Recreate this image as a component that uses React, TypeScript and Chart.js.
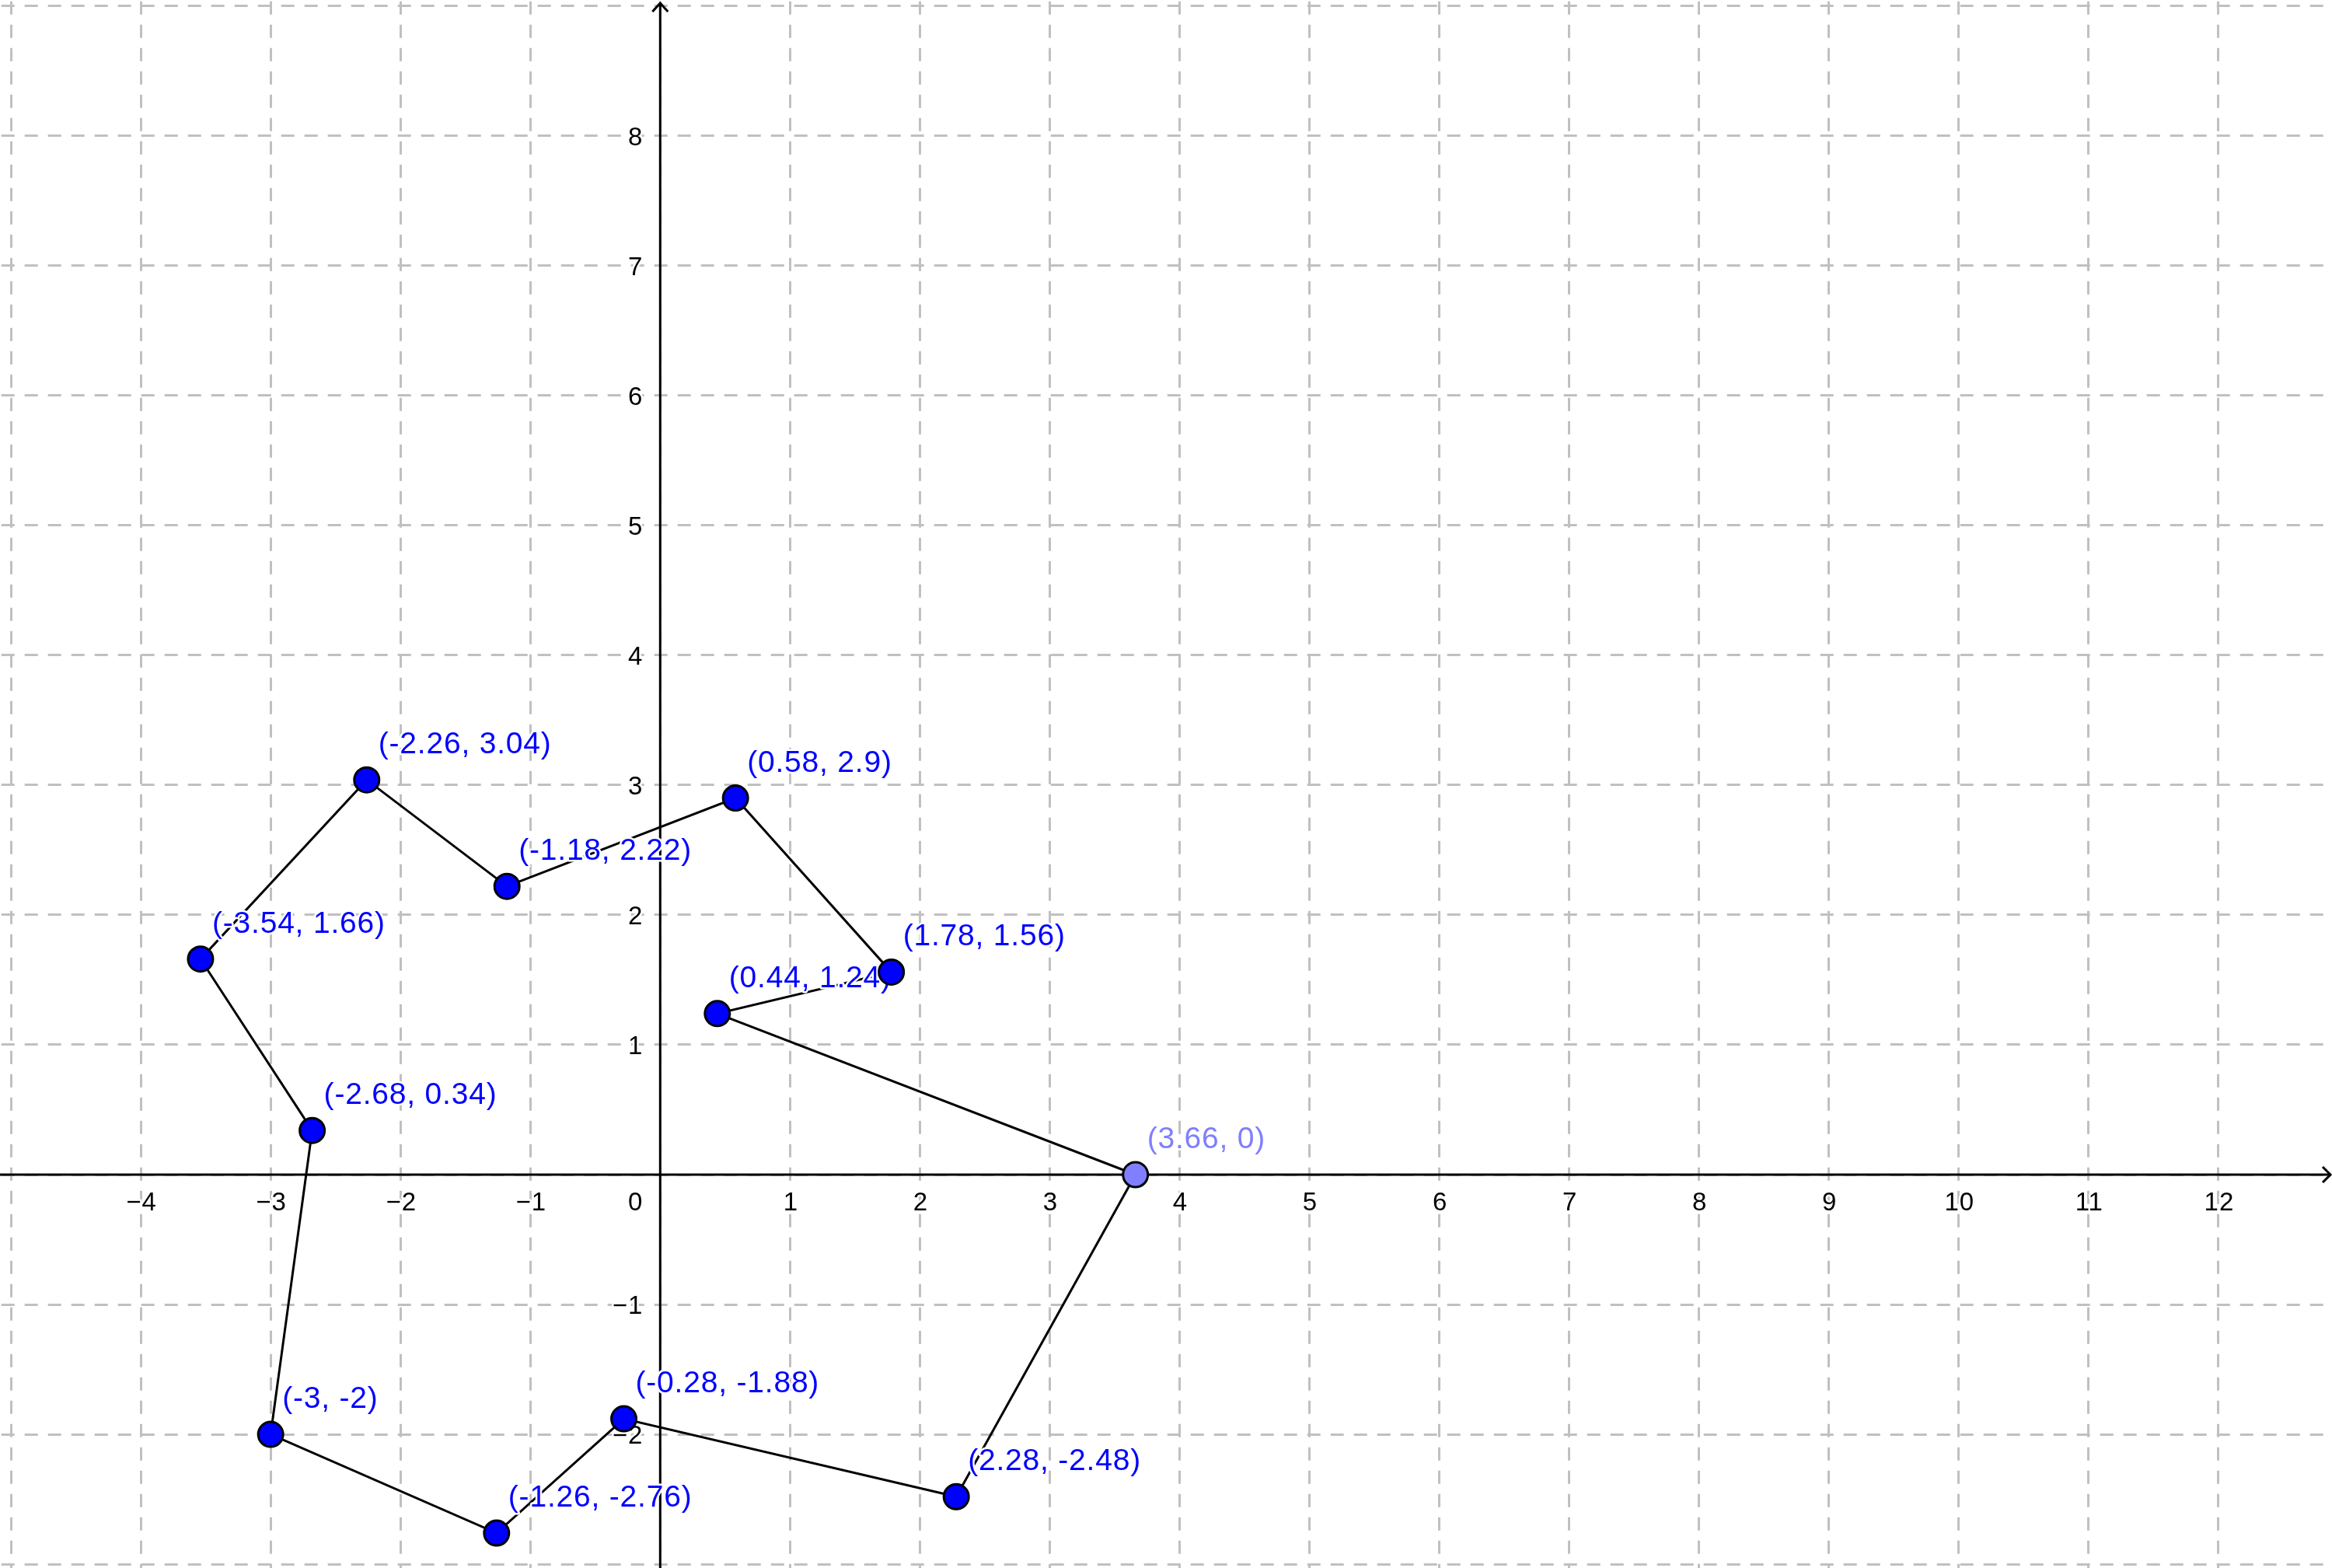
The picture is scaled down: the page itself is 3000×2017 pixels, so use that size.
import React, { useEffect, useRef } from "react";
import { Chart, registerables } from "chart.js";

Chart.register(...registerables);

// Polygon vertices, in drawing order (closed back to the first one)
const pointX = [3.66, 0.44, 1.78, 0.58, -1.18, -2.26, -3.54, -2.68, -3, -1.26, -0.28, 2.28];
const pointY = [0, 1.24, 1.56, 2.9, 2.22, 3.04, 1.66, 0.34, -2, -2.76, -1.88, -2.48];
const pointColors = [
  "#7f7fff", "#0000ff", "#0000ff", "#0000ff", "#0000ff", "#0000ff",
  "#0000ff", "#0000ff", "#0000ff", "#0000ff", "#0000ff", "#0000ff",
];

// Axis tick labels
const xTickValues = [-4, -3, -2, -1, 1, 2, 3, 4, 5, 6, 7, 8, 9, 10, 11, 12];
const xTickLabels = ["−4", "−3", "−2", "−1", "1", "2", "3", "4", "5", "6", "7", "8", "9", "10", "11", "12"];
const yTickValues = [-2, -1, 1, 2, 3, 4, 5, 6, 7, 8];
const yTickLabels = ["−2", "−1", "1", "2", "3", "4", "5", "6", "7", "8"];
const originLabel = "0";

// Grid line positions
const xGridValues = [-5, -4, -3, -2, -1, 0, 1, 2, 3, 4, 5, 6, 7, 8, 9, 10, 11, 12];
const yGridValues = [-3, -2, -1, 0, 1, 2, 3, 4, 5, 6, 7, 8, 9];

// Visible window
const X_MIN = -5.0841;
const X_MAX = 12.8746;
const Y_MIN = -3.029;
const Y_MAX = 9.0452;

const W = 3000;
const H = 2017;

const TICK_FONT = "33px 'Liberation Sans', Arial, sans-serif";
const LABEL_FONT = "39px 'Liberation Sans', Arial, sans-serif";

const geoPlugin = {
  id: "geoAxes",
  beforeDatasetsDraw(chart: any) {
    const { ctx } = chart;
    const xs = chart.scales.x;
    const ys = chart.scales.y;
    const ox = xs.getPixelForValue(0);
    const oy = ys.getPixelForValue(0);
    const cw = chart.width;
    const ch = chart.height;
    ctx.save();
    ctx.strokeStyle = "#000";
    ctx.lineWidth = 3;
    ctx.lineCap = "butt";
    ctx.beginPath();
    ctx.moveTo(0, oy);
    ctx.lineTo(cw - 2, oy);
    ctx.moveTo(ox, ch);
    ctx.lineTo(ox, 4);
    ctx.stroke();
    ctx.lineJoin = "miter";
    ctx.beginPath();
    ctx.moveTo(cw - 12, oy - 10);
    ctx.lineTo(cw - 2, oy);
    ctx.lineTo(cw - 12, oy + 10);
    ctx.stroke();
    ctx.beginPath();
    ctx.moveTo(ox - 10, 15);
    ctx.lineTo(ox, 4);
    ctx.lineTo(ox + 10, 15);
    ctx.stroke();

    ctx.font = TICK_FONT;
    try { ctx.letterSpacing = "1px"; } catch (e) {}
    ctx.lineJoin = "round";
    ctx.strokeStyle = "#fff";
    ctx.lineWidth = 5;
    ctx.fillStyle = "#000";
    ctx.textBaseline = "alphabetic";
    ctx.textAlign = "center";
    xTickValues.forEach((v, i) => {
      const px = xs.getPixelForValue(v) + 1;
      ctx.strokeText(xTickLabels[i], px, oy + 46);
      ctx.fillText(xTickLabels[i], px, oy + 46);
    });
    ctx.textAlign = "right";
    yTickValues.forEach((v, i) => {
      const py = ys.getPixelForValue(v);
      ctx.strokeText(yTickLabels[i], ox - 22, py + 12);
      ctx.fillText(yTickLabels[i], ox - 22, py + 12);
    });
    ctx.strokeText(originLabel, ox - 22, oy + 46);
    ctx.fillText(originLabel, ox - 22, oy + 46);
    ctx.restore();
  },
  afterDatasetDraw(chart: any, args: any) {
    if (args.index !== 1) return;
    const { ctx } = chart;
    const xs = chart.scales.x;
    const ys = chart.scales.y;
    ctx.save();
    ctx.font = LABEL_FONT;
    try { ctx.letterSpacing = "0.8px"; } catch (e) {}
    ctx.textAlign = "left";
    ctx.textBaseline = "alphabetic";
    ctx.lineJoin = "round";
    ctx.lineWidth = 5;
    ctx.strokeStyle = "#fff";
    pointX.forEach((vx, i) => {
      const vy = pointY[i];
      const text = "(" + String(vx) + ", " + String(vy) + ")";
      const px = xs.getPixelForValue(vx) + 15;
      const py = ys.getPixelForValue(vy) - 34;
      ctx.strokeText(text, px, py);
      ctx.fillStyle = pointColors[i];
      ctx.fillText(text, px, py);
    });
    ctx.restore();
  },
};

export default function App() {
  const canvasRef = useRef<HTMLCanvasElement | null>(null);

  useEffect(() => {
    const canvas = canvasRef.current;
    if (!canvas) return;
    const pts = pointX.map((x, i) => ({ x, y: pointY[i] }));
    const loop = pts.concat([pts[0]]);

    const chart = new Chart(canvas, {
      type: "scatter",
      data: {
        datasets: [
          {
            label: "points",
            data: pts,
            order: 1,
            showLine: false,
            pointRadius: 16,
            pointHoverRadius: 16,
            pointBackgroundColor: pointColors,
            pointBorderColor: "#000000",
            pointBorderWidth: 3,
          } as any,
          {
            label: "polygon",
            data: loop,
            order: 2,
            showLine: true,
            borderColor: "#000000",
            borderWidth: 3,
            pointRadius: 0,
            pointHoverRadius: 0,
            tension: 0,
            fill: false,
          } as any,
        ],
      },
      options: {
        responsive: false,
        animation: false,
        events: [],
        layout: { padding: 0, autoPadding: false },
        plugins: {
          legend: { display: false },
          tooltip: { enabled: false },
          title: { display: false },
        },
        scales: {
          x: {
            type: "linear",
            min: X_MIN,
            max: X_MAX,
            afterBuildTicks: (scale: any) => {
              scale.ticks = xGridValues.map((v) => ({ value: v }));
            },
            ticks: { display: false },
            grid: { color: "#c0c0c0", lineWidth: 3, drawTicks: false },
            border: { display: false, dash: [17, 13], dashOffset: 28.3 },
          },
          y: {
            type: "linear",
            min: Y_MIN,
            max: Y_MAX,
            afterBuildTicks: (scale: any) => {
              scale.ticks = yGridValues.map((v) => ({ value: v }));
            },
            ticks: { display: false },
            grid: { color: "#c0c0c0", lineWidth: 3, drawTicks: false },
            border: { display: false, dash: [17, 13], dashOffset: 28.3 },
          },
        },
      } as any,
      plugins: [geoPlugin],
    });
    return () => chart.destroy();
  }, []);

  return (
    <div style={{ position: "fixed", left: 0, top: 0, width: W, height: H, background: "#ffffff" }}>
      <canvas ref={canvasRef} width={W} height={H} style={{ width: W, height: H, display: "block" }} />
    </div>
  );
}
